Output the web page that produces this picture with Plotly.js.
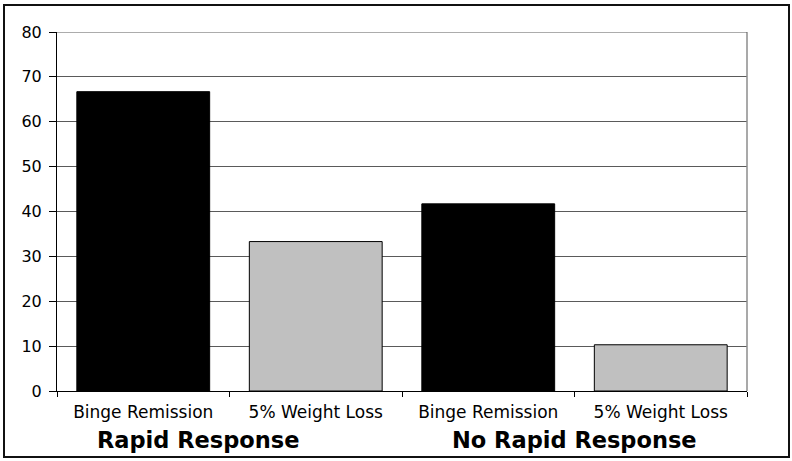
<!DOCTYPE html>
<html>
<head>
<meta charset="utf-8">
<script src="https://cdn.plot.ly/plotly-3.0.1.min.js"></script>
<style>
  html, body { margin: 0; padding: 0; background: #fff; }
  #wrap { position: relative; width: 792px; height: 461px; }
  #chart { width: 792px; height: 461px; }
  #frame { position: absolute; left: 3px; top: 4px; width: 783px; height: 450px; border: 2px solid #111; pointer-events: none; }
</style>
</head>
<body>
<div id="wrap">
  <div id="chart"></div>
  <div id="frame"></div>
</div>
<script>
// Data
const categories = ["Binge Remission", "5% Weight Loss", "Binge Remission", "5% Weight Loss"];
const groups = ["Rapid Response", "No Rapid Response"];
const values = [66.7, 33.3, 41.7, 10.3];
const barColors = ["#000000", "#c0c0c0", "#000000", "#c0c0c0"];
const yTicks = [0, 10, 20, 30, 40, 50, 60, 70, 80];

const xIdx = categories.map((_, i) => i);
const boundaries = categories.map((_, i) => i - 0.5).concat([categories.length - 0.5]);
const groupCenters = [0.32, 2.5];
const yMax = yTicks[yTicks.length - 1];

const trace = {
  type: "bar",
  x: xIdx,
  y: values,
  marker: { color: barColors, line: { color: "#000000", width: 1 } },
  width: 0.77,
  hoverinfo: "skip"
};

const layout = {
  width: 792,
  height: 461,
  margin: { l: 57, r: 45, t: 32, b: 70 },
  paper_bgcolor: "#ffffff",
  plot_bgcolor: "#ffffff",
  showlegend: false,
  font: { family: "DejaVu Sans, Arial, sans-serif", color: "#000" },
  xaxis: {
    range: [-0.5, categories.length - 0.5],
    tickmode: "array",
    tickvals: xIdx,
    ticktext: categories,
    ticks: "",
    ticklabelstandoff: 6,
    tickfont: { size: 17, color: "#000", family: "DejaVu Sans, Arial, sans-serif" },
    showgrid: false,
    zeroline: false,
    showline: true,
    linecolor: "#000",
    linewidth: 1,
    minor: { tickmode: "array", tickvals: boundaries, ticks: "outside", ticklen: 5, tickwidth: 1, tickcolor: "#000", showgrid: false },
    fixedrange: true
  },
  yaxis: {
    range: [0, yMax],
    tickmode: "array",
    tickvals: yTicks,
    ticks: "outside",
    ticklen: 7,
    tickwidth: 1,
    tickcolor: "#000",
    ticklabelstandoff: 4,
    tickfont: { size: 16, color: "#000", family: "DejaVu Sans, Arial, sans-serif" },
    showgrid: true,
    gridcolor: "#5a5a5a",
    gridwidth: 1,
    zeroline: false,
    showline: true,
    linecolor: "#000",
    linewidth: 1,
    fixedrange: true
  },
  shapes: [
    { type: "line", xref: "paper", yref: "paper", x0: 1, x1: 1, y0: 0, y1: 1, line: { color: "#8c8c8c", width: 1.5 } },
    { type: "line", xref: "paper", yref: "y", x0: 0, x1: 1, y0: yMax, y1: yMax, line: { color: "#5a5a5a", width: 1 } }
  ],
  annotations: groups.map((g, i) => ({
    text: "<b>" + g + "</b>",
    x: groupCenters[i],
    xref: "x",
    y: -0.137,
    yref: "paper",
    yanchor: "middle",
    xanchor: "center",
    showarrow: false,
    font: { size: 22.5, color: "#000", family: "DejaVu Sans, Arial, sans-serif" }
  }))
};

Plotly.newPlot("chart", [trace], layout, { displayModeBar: false, staticPlot: true });
</script>
</body>
</html>
